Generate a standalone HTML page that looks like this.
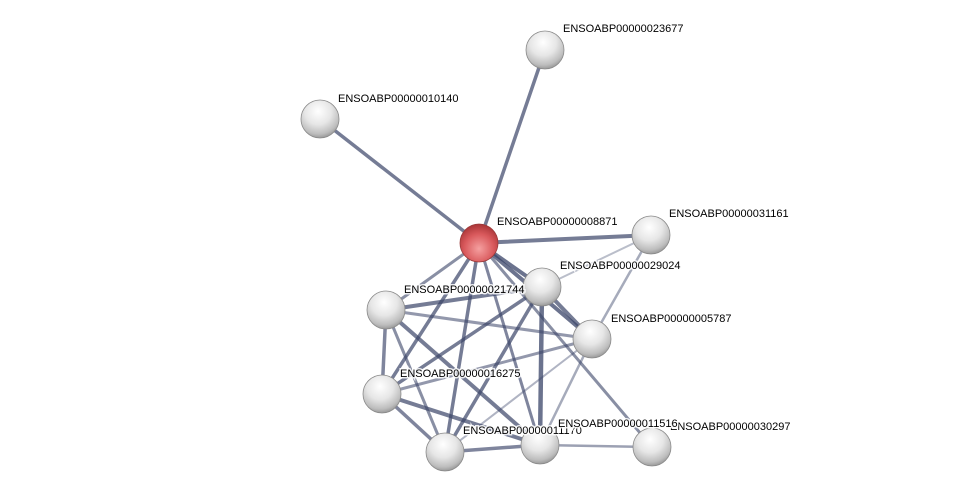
<!DOCTYPE html>
<html><head><meta charset="utf-8"><style>
html,body{margin:0;padding:0;background:#fff;}
svg{display:block;}
text{font-family:"Liberation Sans",sans-serif;font-size:11px;fill:#000;stroke:#fff;stroke-width:3px;paint-order:stroke;stroke-opacity:.85}
</style></head><body>
<svg width="976" height="497" viewBox="0 0 976 497" xmlns="http://www.w3.org/2000/svg">
<defs>
<radialGradient id="g" cx="45%" cy="30%" r="70%">
<stop offset="0" stop-color="#ffffff"/><stop offset="0.5" stop-color="#e6e6e6"/><stop offset="0.85" stop-color="#bdbdbd"/><stop offset="1" stop-color="#9a9a9a"/>
</radialGradient>
<radialGradient id="r" cx="50%" cy="65%" r="65%">
<stop offset="0" stop-color="#f5a0a0"/><stop offset="0.6" stop-color="#d9595c"/><stop offset="1" stop-color="#a83436"/>
</radialGradient>
</defs>
<g stroke="#3a4468" stroke-linecap="round">
<line x1="479" y1="243" x2="320" y2="119" stroke-width="3.5" stroke-opacity=".7"/>
<line x1="479" y1="243" x2="545" y2="50" stroke-width="3.5" stroke-opacity=".7"/>
<line x1="479" y1="243" x2="651" y2="235" stroke-width="4" stroke-opacity=".7"/>
<line x1="479" y1="243" x2="542" y2="287" stroke-width="4" stroke-opacity=".75"/>
<line x1="479" y1="243" x2="386" y2="310" stroke-width="3" stroke-opacity=".6"/>
<line x1="479" y1="243" x2="592" y2="339" stroke-width="4" stroke-opacity=".75"/>
<line x1="479" y1="243" x2="382" y2="394" stroke-width="3.5" stroke-opacity=".7"/>
<line x1="479" y1="243" x2="445" y2="452" stroke-width="3.5" stroke-opacity=".7"/>
<line x1="479" y1="243" x2="540" y2="445" stroke-width="3" stroke-opacity=".65"/>
<line x1="479" y1="243" x2="652" y2="447" stroke-width="3" stroke-opacity=".6"/>
<line x1="542" y1="287" x2="651" y2="235" stroke-width="2" stroke-opacity=".35"/>
<line x1="592" y1="339" x2="651" y2="235" stroke-width="2.5" stroke-opacity=".45"/>
<line x1="542" y1="287" x2="386" y2="310" stroke-width="4" stroke-opacity=".7"/>
<line x1="542" y1="287" x2="592" y2="339" stroke-width="4" stroke-opacity=".7"/>
<line x1="542" y1="287" x2="382" y2="394" stroke-width="3.5" stroke-opacity=".7"/>
<line x1="542" y1="287" x2="445" y2="452" stroke-width="3.5" stroke-opacity=".7"/>
<line x1="542" y1="287" x2="540" y2="445" stroke-width="4.5" stroke-opacity=".75"/>
<line x1="386" y1="310" x2="592" y2="339" stroke-width="3" stroke-opacity=".55"/>
<line x1="386" y1="310" x2="382" y2="394" stroke-width="3.5" stroke-opacity=".65"/>
<line x1="386" y1="310" x2="445" y2="452" stroke-width="3" stroke-opacity=".6"/>
<line x1="386" y1="310" x2="540" y2="445" stroke-width="4" stroke-opacity=".7"/>
<line x1="382" y1="394" x2="592" y2="339" stroke-width="3" stroke-opacity=".55"/>
<line x1="382" y1="394" x2="445" y2="452" stroke-width="3.5" stroke-opacity=".65"/>
<line x1="382" y1="394" x2="540" y2="445" stroke-width="4" stroke-opacity=".7"/>
<line x1="445" y1="452" x2="540" y2="445" stroke-width="3.5" stroke-opacity=".65"/>
<line x1="445" y1="452" x2="592" y2="339" stroke-width="2" stroke-opacity=".4"/>
<line x1="540" y1="445" x2="592" y2="339" stroke-width="2.5" stroke-opacity=".45"/>
<line x1="540" y1="445" x2="652" y2="447" stroke-width="2.5" stroke-opacity=".5"/>
</g>
<g stroke="#8a8a8a" stroke-width="0.8">
<circle cx="545" cy="50" r="19" fill="url(#g)"/>
<circle cx="320" cy="119" r="19" fill="url(#g)"/>
<circle cx="651" cy="235" r="19" fill="url(#g)"/>
<circle cx="542" cy="287" r="19" fill="url(#g)"/>
<circle cx="386" cy="310" r="19" fill="url(#g)"/>
<circle cx="592" cy="339" r="19" fill="url(#g)"/>
<circle cx="382" cy="394" r="19" fill="url(#g)"/>
<circle cx="445" cy="452" r="19" fill="url(#g)"/>
<circle cx="540" cy="445" r="19" fill="url(#g)"/>
<circle cx="652" cy="447" r="19" fill="url(#g)"/>
<circle cx="479" cy="243" r="19" fill="url(#r)" stroke="#9a3a3a"/>
</g>
<text x="563" y="32">ENSOABP00000023677</text>
<text x="338" y="102">ENSOABP00000010140</text>
<text x="497" y="225">ENSOABP00000008871</text>
<text x="669" y="217">ENSOABP00000031161</text>
<text x="560" y="269">ENSOABP00000029024</text>
<text x="404" y="293">ENSOABP00000021744</text>
<text x="611" y="322">ENSOABP00000005787</text>
<text x="400" y="377">ENSOABP00000016275</text>
<text x="670" y="430">ENSOABP00000030297</text>
<text x="463" y="434">ENSOABP00000011170</text>
<text x="558" y="427">ENSOABP00000011516</text>
</svg>
</body></html>
